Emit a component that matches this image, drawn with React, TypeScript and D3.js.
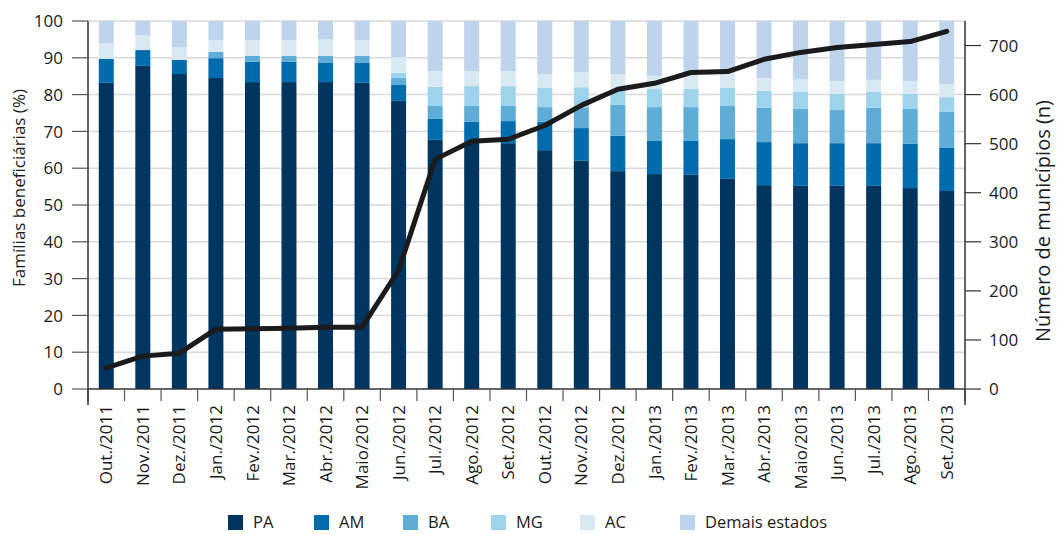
import React, { useRef, useEffect } from 'react';
import * as d3 from 'd3';

// Months on the x axis
const months = [
  'Out./2011', 'Nov./2011', 'Dez./2011', 'Jan./2012', 'Fev./2012', 'Mar./2012',
  'Abr./2012', 'Maio/2012', 'Jun./2012', 'Jul./2012', 'Ago./2012', 'Set./2012',
  'Out./2012', 'Nov./2012', 'Dez./2012', 'Jan./2013', 'Fev./2013', 'Mar./2013',
  'Abr./2013', 'Maio/2013', 'Jun./2013', 'Jul./2013', 'Ago./2013', 'Set./2013',
];

// Share of beneficiary families per state (%)
const pa = [83.2, 87.8, 85.6, 84.5, 83.4, 83.4, 83.4, 83.2, 78.3, 67.7, 67.0, 66.8, 64.9, 62.0, 59.2, 58.4, 58.2, 57.1, 55.4, 55.2, 55.2, 55.2, 54.6, 53.8];
const am = [6.5, 4.3, 3.8, 5.4, 5.5, 5.5, 5.2, 5.4, 4.3, 5.7, 5.6, 6.0, 7.7, 8.9, 9.6, 9.0, 9.2, 10.8, 11.7, 11.6, 11.6, 11.6, 12.0, 11.7];
const ba = [0, 0, 0, 1.7, 1.6, 1.6, 1.9, 1.9, 1.9, 3.5, 4.3, 4.1, 4.0, 5.6, 8.4, 9.2, 9.2, 9.0, 9.3, 9.3, 9.0, 9.6, 9.5, 9.8];
const mg = [0, 0, 0, 0, 0, 0, 0, 0, 1.4, 5.2, 5.4, 5.4, 5.2, 5.5, 4.0, 4.9, 4.9, 4.9, 4.6, 4.6, 4.4, 4.3, 4.1, 4.0];
const ac = [4.3, 4.1, 3.5, 3.2, 4.3, 4.3, 4.6, 4.3, 4.3, 4.3, 4.1, 4.1, 3.8, 4.1, 4.4, 3.6, 3.8, 4.1, 3.5, 3.5, 3.5, 3.3, 3.5, 3.6];
const demais = [6.0, 3.8, 7.1, 5.2, 5.2, 5.2, 4.9, 5.2, 9.8, 13.6, 13.6, 13.6, 14.4, 13.9, 14.4, 14.9, 14.7, 14.1, 15.5, 15.8, 16.3, 16.0, 16.3, 17.1];

// Number of municipalities (right axis)
const municipios = [43, 67, 73, 122, 123, 124, 126, 126, 242, 468, 505, 509, 537, 578, 611, 623, 645, 647, 672, 686, 696, 702, 708, 729];

const seriesKeys = ['PA', 'AM', 'BA', 'MG', 'AC', 'Demais estados'];
const seriesColors = ['#00355f', '#006bad', '#5fadd6', '#9dd3eb', '#d9e9f3', '#bdd4ec'];
const leftTicks = [0, 10, 20, 30, 40, 50, 60, 70, 80, 90, 100];
const rightTicks = [0, 100, 200, 300, 400, 500, 600, 700];

const FONT = '"Open Sans", "Noto Sans", sans-serif';

export default function App() {
  const svgRef = useRef<SVGSVGElement>(null);
  const width = 1057;
  const height = 534;

  useEffect(() => {
    if (!svgRef.current) return;
    const svg = d3.select(svgRef.current);
    svg.selectAll('*').remove();

    const left = 88;
    const right = 965;
    const top = 21;
    const bottom = 389;

    const x = d3.scaleBand<string>()
      .domain(months)
      .range([left, right])
      .paddingInner(0.59)
      .paddingOuter(0.295);
    const step = x.step();
    const cx = (m: string) => (x(m) || 0) + x.bandwidth() / 2;

    const yL = d3.scaleLinear().domain([0, 100]).range([bottom, top]);
    const yR = d3.scaleLinear().domain([0, 750]).range([bottom, top]);

    // rows for stacking
    const rows = months.map((m, i) => ({
      month: m,
      PA: pa[i], AM: am[i], BA: ba[i], MG: mg[i], AC: ac[i], 'Demais estados': demais[i],
    }));
    const stacked = d3.stack<any>().keys(seriesKeys)(rows);

    // gridlines
    svg.append('g')
      .selectAll('line')
      .data(leftTicks.filter(t => t > 0))
      .enter()
      .append('line')
      .attr('x1', left)
      .attr('x2', right)
      .attr('y1', d => yL(d))
      .attr('y2', d => yL(d))
      .attr('stroke', '#d9d9d9')
      .attr('stroke-width', 1.5);

    // bars
    svg.append('g')
      .selectAll('g')
      .data(stacked)
      .enter()
      .append('g')
      .attr('fill', (_d, i) => seriesColors[i])
      .selectAll('rect')
      .data(d => d)
      .enter()
      .append('rect')
      .attr('x', d => x(d.data.month) || 0)
      .attr('width', x.bandwidth())
      .attr('y', d => yL(d[1]))
      .attr('height', d => Math.max(0, yL(d[0]) - yL(d[1])));

    // line on right axis
    const line = d3.line<number>()
      .x((_d, i) => cx(months[i]))
      .y(d => yR(d));
    svg.append('path')
      .datum(municipios)
      .attr('d', line)
      .attr('fill', 'none')
      .attr('stroke', '#1b1a1c')
      .attr('stroke-width', 5)
      .attr('stroke-linejoin', 'round')
      .attr('stroke-linecap', 'round');

    const axisColor = '#333';

    // x axis baseline and ticks at category boundaries
    svg.append('line')
      .attr('x1', left).attr('x2', right)
      .attr('y1', bottom).attr('y2', bottom)
      .attr('stroke', axisColor).attr('stroke-width', 1.5);
    svg.append('g')
      .selectAll('line')
      .data(d3.range(months.length + 1))
      .enter()
      .append('line')
      .attr('x1', i => left + i * step)
      .attr('x2', i => left + i * step)
      .attr('y1', bottom)
      .attr('y2', bottom + 12)
      .attr('stroke', '#555')
      .attr('stroke-width', 1.2);

    // x labels
    svg.append('g')
      .selectAll('text')
      .data(months)
      .enter()
      .append('text')
      .attr('transform', d => `translate(${cx(d)},${bottom + 16}) rotate(-90)`)
      .attr('text-anchor', 'end')
      .attr('dy', '0.36em')
      .attr('font-family', FONT)
      .attr('font-size', 17)
      .attr('fill', '#1a1a1a')
      .text(d => d);

    // left axis
    svg.append('line')
      .attr('x1', left).attr('x2', left)
      .attr('y1', top).attr('y2', bottom + 16)
      .attr('stroke', axisColor).attr('stroke-width', 1.5);
    const lt = svg.append('g');
    lt.selectAll('line')
      .data(leftTicks)
      .enter()
      .append('line')
      .attr('x1', left - 16).attr('x2', left)
      .attr('y1', d => yL(d)).attr('y2', d => yL(d))
      .attr('stroke', '#555').attr('stroke-width', 1.2);
    lt.selectAll('text')
      .data(leftTicks)
      .enter()
      .append('text')
      .attr('x', 63)
      .attr('y', d => yL(d))
      .attr('dy', '0.36em')
      .attr('text-anchor', 'end')
      .attr('font-family', FONT)
      .attr('font-size', 17)
      .attr('fill', '#1a1a1a')
      .text(d => d);
    svg.append('text')
      .attr('transform', `translate(25,188) rotate(-90)`)
      .attr('text-anchor', 'middle')
      .attr('font-family', FONT)
      .attr('font-size', 17)
      .attr('fill', '#1a1a1a')
      .text('Famílias beneficiárias (%)');

    // right axis
    svg.append('line')
      .attr('x1', right).attr('x2', right)
      .attr('y1', top).attr('y2', bottom + 16)
      .attr('stroke', axisColor).attr('stroke-width', 1.5);
    const rt = svg.append('g');
    rt.selectAll('line')
      .data(rightTicks)
      .enter()
      .append('line')
      .attr('x1', right).attr('x2', right + 16)
      .attr('y1', d => yR(d)).attr('y2', d => yR(d))
      .attr('stroke', '#333').attr('stroke-width', 1.2);
    rt.selectAll('text')
      .data(rightTicks)
      .enter()
      .append('text')
      .attr('x', 989)
      .attr('y', d => yR(d))
      .attr('dy', '0.36em')
      .attr('font-family', FONT)
      .attr('font-size', 17)
      .attr('fill', '#1a1a1a')
      .text(d => d);
    svg.append('text')
      .attr('transform', `translate(1050,221) rotate(-90)`)
      .attr('text-anchor', 'middle')
      .attr('font-family', FONT)
      .attr('font-size', 20)
      .attr('fill', '#1a1a1a')
      .text('Número de municípios (n)');

    // legend
    const legendX = [228, 314, 403, 491, 580, 680];
    const lg = svg.append('g')
      .selectAll('g')
      .data(seriesKeys)
      .enter()
      .append('g')
      .attr('transform', (_d, i) => `translate(${legendX[i]},515)`);
    lg.append('rect')
      .attr('width', 15)
      .attr('height', 15)
      .attr('fill', (_d, i) => seriesColors[i]);
    lg.append('text')
      .attr('x', 25)
      .attr('y', 7.5)
      .attr('dy', '0.35em')
      .attr('font-family', FONT)
      .attr('font-size', 16.5)
      .attr('fill', '#1a1a1a')
      .text(d => d);
  }, []);

  return (
    <svg
      ref={svgRef}
      width={width}
      height={height}
      style={{ position: 'absolute', left: 0, top: 0, display: 'block', background: '#fff' }}
    />
  );
}
